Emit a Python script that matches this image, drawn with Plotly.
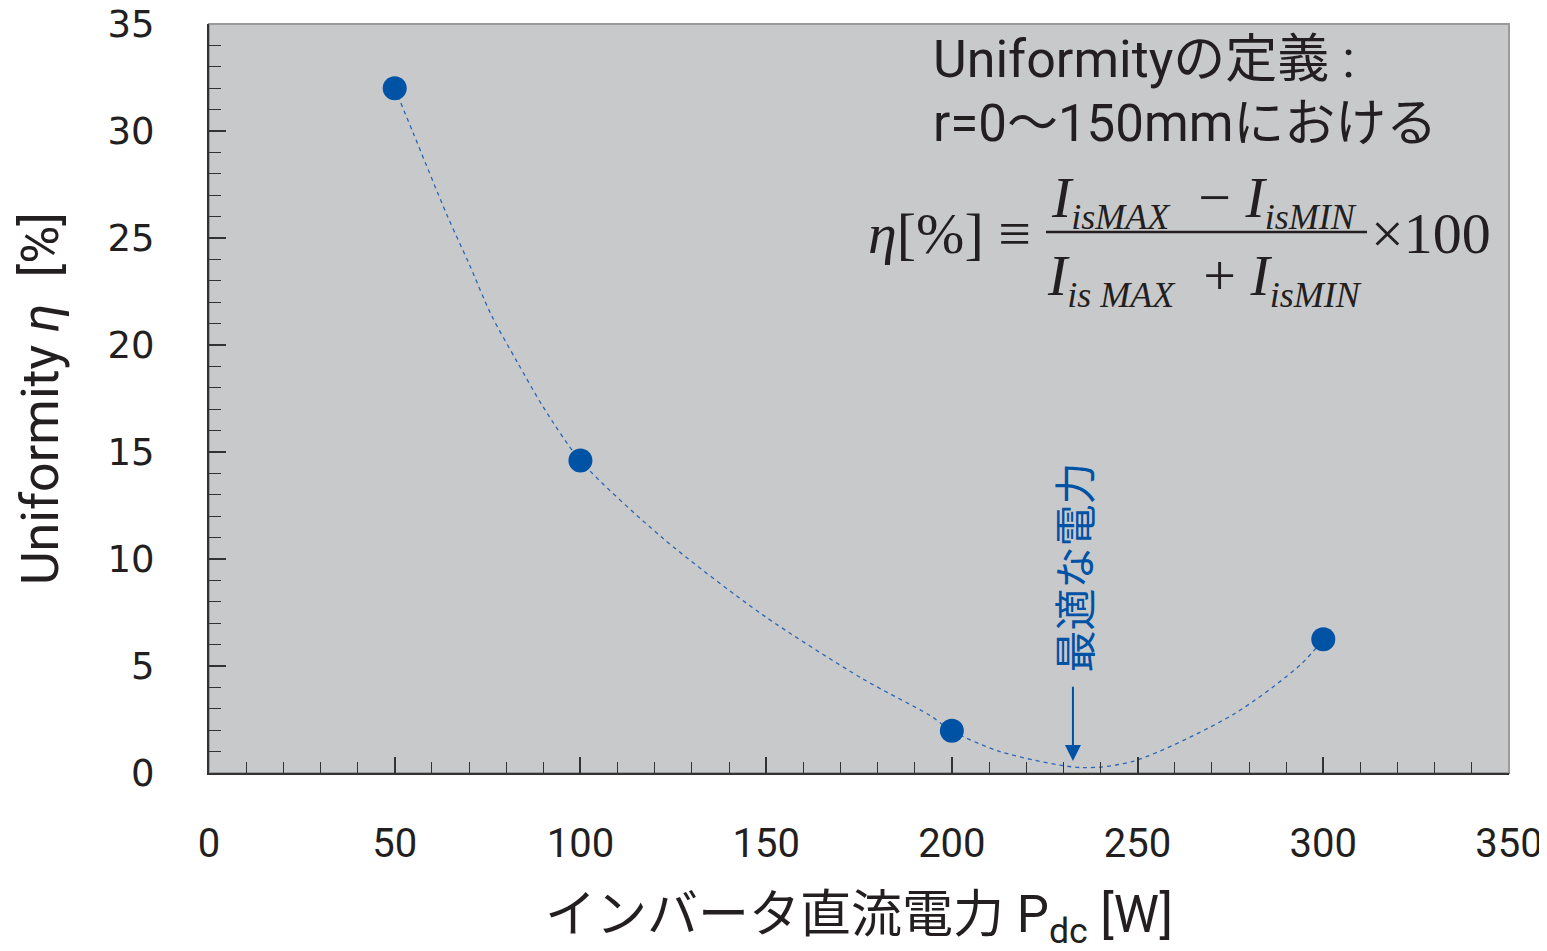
import plotly.graph_objects as go

# measured points
power_w = [50, 100, 200, 300]
uniformity = [32.0, 14.6, 1.97, 6.25]

# dashed trend curve
curve_x = [50, 55, 64, 70, 76, 83, 90, 100, 122, 149, 176, 194, 200, 213, 235, 249, 276, 294, 300]
curve_y = [32.0, 29.9, 26.1, 23.8, 21.4, 19.2, 17.1, 14.6, 11.0, 7.4, 4.4, 2.7, 1.97, 1.0, 0.25, 0.56, 2.76, 5.08, 6.25]

x_ticks = [0, 50, 100, 150, 200, 250, 300, 350]
y_ticks = [0, 5, 10, 15, 20, 25, 30, 35]

optimum_x = 232.6
optimum_arrow_tip = 0.56
optimum_arrow_tail = 4.1

BLUE = "#0052a5"
INK = "#231f20"
JP = "Roboto, 'Noto Sans CJK JP', sans-serif"
SERIF = "'Liberation Serif', 'DejaVu Serif', serif"

# page offset of the figure inside the browser window
OFF = 7
L, T, PW, PH = 208 - OFF, 23 - OFF, 1300, 749

fig = go.Figure()
fig.add_trace(go.Scatter(
    x=curve_x, y=curve_y, mode="lines",
    line=dict(color="#2a66b5", width=1.3, dash="4px,4px", shape="spline", smoothing=0.8),
    hoverinfo="skip", showlegend=False))
fig.add_trace(go.Scatter(
    x=power_w, y=uniformity, mode="markers",
    marker=dict(color=BLUE, size=24, line=dict(width=0)),
    showlegend=False))

# plot border (top/right grey)
fig.add_shape(type="rect", xref="paper", yref="paper", x0=0, x1=1, y0=0, y1=1,
              line=dict(color="#9a9a9a", width=2), layer="below")

# optimum arrow and vertical label
fig.add_annotation(x=optimum_x, y=optimum_arrow_tip, ax=optimum_x, ay=optimum_arrow_tail,
                   xref="x", yref="y", axref="x", ayref="y", text="",
                   showarrow=True, arrowhead=2, arrowsize=1.6, arrowwidth=2, arrowcolor=BLUE)
fig.add_annotation(x=optimum_x, y=9.6, xref="x", yref="y", text="最適な電力",
                   textangle=-90, showarrow=False,
                   font=dict(family="'Noto Sans CJK JP', sans-serif", size=42, color=BLUE))


def px_x(p):
    return (p - 208) / PW


def px_y(p):
    return (772 - p) / PH


def sub(t):
    return "<sub><span style='font-size:36px'><i>" + t + "</i></span></sub>"


fig.add_annotation(x=px_x(930), y=px_y(58), xref="paper", yref="paper", xanchor="left",
                   yanchor="middle", text="Uniformityの定義 :", showarrow=False,
                   font=dict(family=JP, size=52, color=INK))
fig.add_annotation(x=px_x(930), y=px_y(122), xref="paper", yref="paper", xanchor="left",
                   yanchor="middle", text="r=0～150mmにおける", showarrow=False,
                   font=dict(family=JP, size=51, color=INK))
fig.add_annotation(x=px_x(1032), y=px_y(232), xref="paper", yref="paper", xanchor="right",
                   yanchor="middle", text="<i>η</i>[%] ≡", showarrow=False,
                   font=dict(family=SERIF, size=58, color=INK))
fig.add_annotation(x=px_x(1048), y=px_y(200), xref="paper", yref="paper", xanchor="left",
                   yanchor="middle",
                   text="<i>I</i>" + sub("isMAX") + "  − <i>I</i>" + sub("isMIN"),
                   showarrow=False, font=dict(family=SERIF, size=58, color=INK))
fig.add_annotation(x=px_x(1044), y=px_y(278), xref="paper", yref="paper", xanchor="left",
                   yanchor="middle",
                   text="<i>I</i>" + sub("is MAX") + "  + <i>I</i>" + sub("isMIN"),
                   showarrow=False, font=dict(family=SERIF, size=58, color=INK))
fig.add_annotation(x=px_x(1368), y=px_y(232), xref="paper", yref="paper", xanchor="left",
                   yanchor="middle", text="×100", showarrow=False,
                   font=dict(family=SERIF, size=58, color=INK))
fig.add_shape(type="line", xref="paper", yref="paper", x0=px_x(1045), x1=px_x(1366),
              y0=px_y(231), y1=px_y(231), line=dict(color=INK, width=2.5))

fig.update_layout(
    width=L + PW + 39, height=T + PH + 179,
    margin=dict(l=L, r=39, t=T, b=179, autoexpand=False),
    paper_bgcolor="white", plot_bgcolor="#c8c9cb",
    font=dict(family=JP, color=INK),
    xaxis=dict(range=[0, 350], tickvals=x_ticks, ticks="inside", ticklen=16, tickwidth=1.5,
               tickcolor="#333", showline=True, linecolor="#333", linewidth=2,
               showgrid=False, zeroline=False, ticklabelstandoff=34, automargin=False,
               ticklabeloverflow="allow",
               tickfont=dict(family="Roboto", size=40, color=INK),
               minor=dict(dtick=10, ticks="inside", ticklen=11, tickwidth=1.2, tickcolor="#333"),
               title=dict(text="インバータ直流電力 P<sub>dc</sub> [W]", standoff=32,
                          font=dict(family=JP, size=51, color=INK))),
    yaxis=dict(range=[0, 35], tickvals=y_ticks, ticks="inside", ticklen=17, tickwidth=1.5,
               tickcolor="#333", showline=True, linecolor="#333", linewidth=2,
               showgrid=False, zeroline=False, ticklabelstandoff=45, automargin=False,
               ticklabeloverflow="allow",
               tickfont=dict(family="'DejaVu Sans'", size=37, color=INK),
               minor=dict(dtick=1, ticks="inside", ticklen=12, tickwidth=1.2, tickcolor="#333"),
               title=dict(text="Uniformity <i>η</i>  [%]", standoff=32,
                          font=dict(family=JP, size=52, color=INK))),
)

fig.write_html("out.html")
